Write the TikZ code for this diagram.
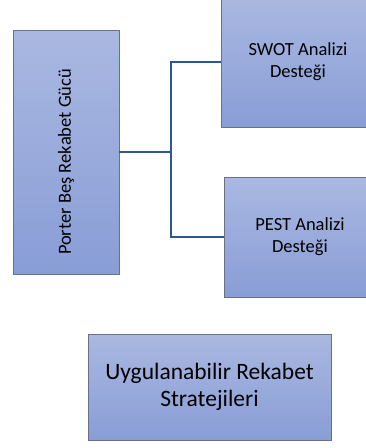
\documentclass[tikz,border=0pt]{standalone}
\usepackage{fontspec}
\setmainfont{Carlito}
\usetikzlibrary{positioning}

\definecolor{boxtop}{RGB}{170,184,225}
\definecolor{boxbot}{RGB}{137,157,214}
\definecolor{boxline}{RGB}{105,114,132}
\definecolor{linkblue}{RGB}{47,85,151}

\begin{document}
\begin{tikzpicture}[x=1pt,y=-1pt,thin]
\tikzstyle{box}=[shape=rectangle,draw=boxline,line width=0.8pt,top color=boxtop,bottom color=boxbot,text=black,align=center,inner sep=0pt,font=\fontsize{18.5}{22}\selectfont]
\tikzstyle{link}=[draw=linkblue,line width=1.8pt]

\useasboundingbox (0,0) rectangle (366,448);

\node[box]		(P) [minimum width=106pt,minimum height=244pt] at (66,152) {\rotatebox{90}{Porter Beş Rekabet Gücü\hspace*{20pt}}};
\node[box]		(S) [minimum width=154pt,minimum height=130pt] at (298,62) {SWOT Analizi\\Desteği};
\node[box]		(E) [minimum width=152pt,minimum height=120pt] at (300,237) {PEST Analizi\\Desteği};
\node[box]		(U) [minimum width=243pt,minimum height=106pt,font=\fontsize{23.5}{27}\selectfont] at (209.5,387) {Uygulanabilir Rekabet\\Stratejileri};

\coordinate (J) at (171,152);

\draw[link] (P.east) -- (J);
\draw[link] (J) |- (S.west);
\draw[link] (J) |- (E.west);
\end{tikzpicture}
\end{document}
